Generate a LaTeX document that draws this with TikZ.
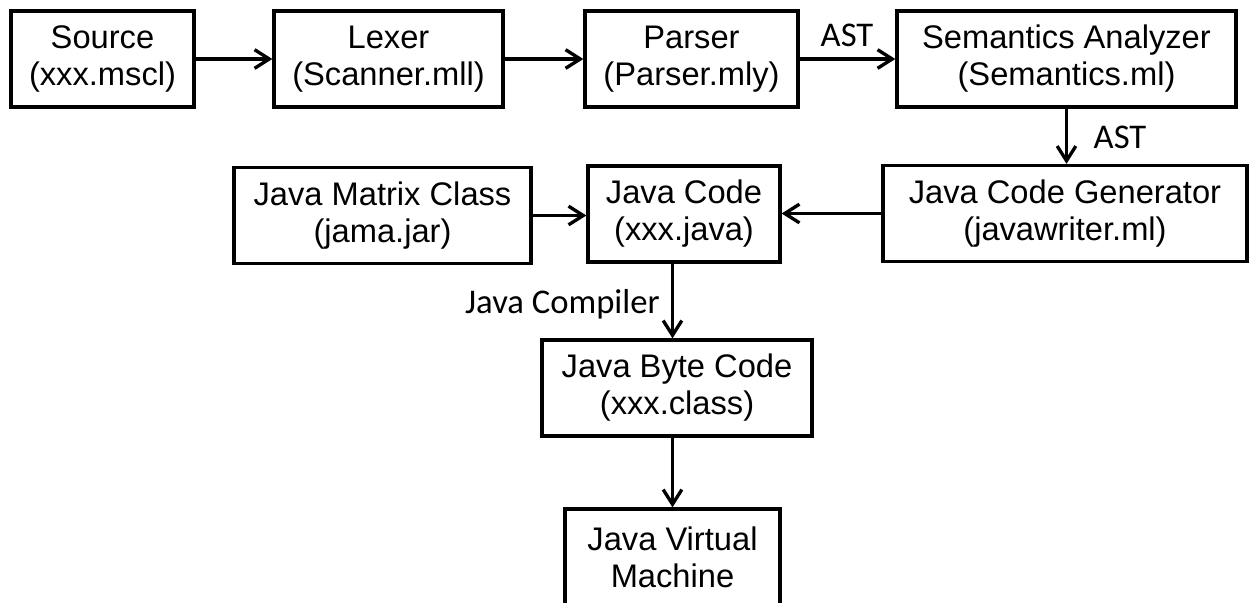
\documentclass[tikz,border=0pt]{standalone}
\usepackage{fontspec}
\setmainfont{Liberation Sans}
\newfontfamily\calib{Carlito}
\usetikzlibrary{arrows.meta}
\begin{document}
\begin{tikzpicture}[x=0.75pt,y=-0.75pt,
  box/.style={draw, line width=2.5pt, align=center, minimum height=72pt, inner sep=0pt,
    font=\fontsize{24.5}{27.8}\selectfont},
  bw/.style={minimum width=#1*0.75pt},
  arr/.style={line width=2.5pt, -{Straight Barb[length=11pt,width=14pt]}},
  lbl/.style={font=\calib\fontsize{26}{30}\selectfont, inner sep=0pt}]
\useasboundingbox (0,0) rectangle (1250,603);
\clip (0,0) rectangle (1250,603);
\node[box, bw=183] (src) at (102.5,59) {Source\\(xxx.mscl)};
\node[box, bw=229] (lex) at (388.5,59) {Lexer\\(Scanner.mll)};
\node[box, bw=213] (par) at (691.5,59) {Parser\\(Parser.mly)};
\node[box, bw=339] (sem) at (1066.5,59) {Semantics Analyzer\\(Semantics.ml)};
\node[box, bw=364] (jcg) at (1065,213.5) {Java Code Generator\\(javawriter.ml)};
\node[box, bw=192] (jc) at (684,214) {Java Code\\(xxx.java)};
\node[box, bw=297] (jm) at (382.5,215.5) {Java Matrix Class\\(jama.jar)};
\node[box, bw=270] (jbc) at (677,388) {Java Byte Code\\(xxx.class)};
\node[box, bw=215] (jvm) at (672.5,557) {Java Virtual\\Machine};
\draw[arr] (src) -- (lex);
\draw[arr] (lex) -- (par);
\draw[arr] (par) -- (sem);
\draw[arr] (sem.south) -- (sem.south |- jcg.north);
\draw[arr] (jcg.west) -- (jcg.west -| jc.east);
\draw[arr] (jm.east) -- (jm.east -| jc.west);
\draw[arr] (jvm.north |- jc.south) -- (jvm.north |- jbc.north);
\draw[arr] (jvm.north |- jbc.south) -- (jvm.north);
\node[lbl, anchor=base] (ast1) at (847,46) {AST};
\node[lbl, anchor=base] (ast2) at (1120,148) {AST};
\node[lbl, anchor=base east] (jcomp) at (660,313) {Java Compiler};
\end{tikzpicture}
\end{document}
